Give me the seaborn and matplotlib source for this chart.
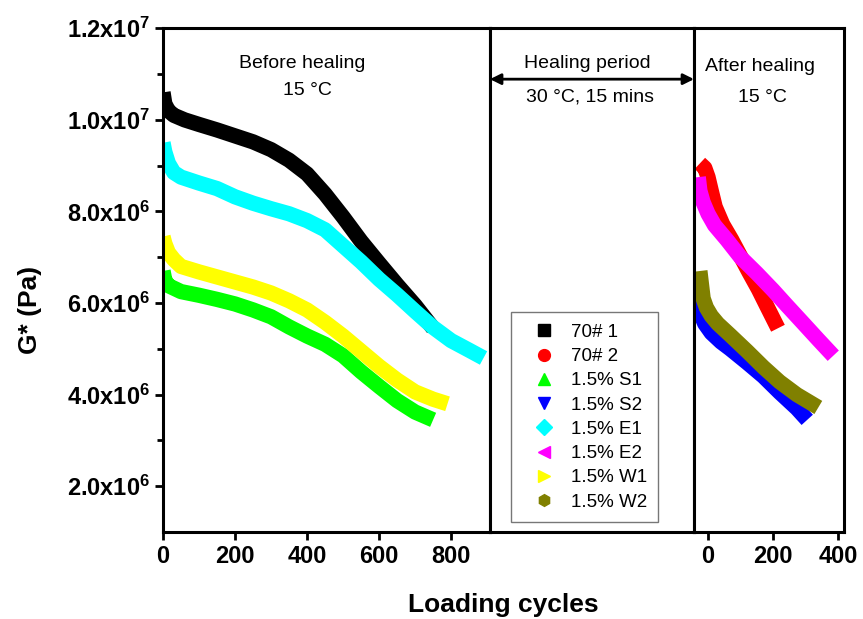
import numpy as np
import pandas as pd
import matplotlib
matplotlib.use("Agg")
import matplotlib.pyplot as plt
from matplotlib.lines import Line2D
import seaborn as sns

# -------------------- DATA (G* in 1e6 Pa) --------------------
# before healing, 15 C
pre_70_1_cyc = [0, 5, 15, 30, 60, 100, 150, 200, 250, 300, 350, 400, 450, 500, 550, 600, 650, 700, 750]
pre_70_1_g = [10.6, 10.35, 10.2, 10.1, 10.0, 9.9, 9.78, 9.65, 9.52, 9.35, 9.12, 8.82, 8.38,
              7.88, 7.35, 6.87, 6.4, 5.95, 5.45]
pre_s1_cyc = [0, 5, 15, 50, 100, 150, 200, 250, 300, 350, 400, 450, 500, 550, 600, 650, 700, 750]
pre_s1_g = [6.7, 6.5, 6.38, 6.25, 6.17, 6.08, 5.98, 5.85, 5.7, 5.48, 5.28, 5.1, 4.85, 4.5,
            4.18, 3.87, 3.62, 3.45]
pre_e1_cyc = [0, 5, 15, 30, 50, 100, 150, 200, 250, 300, 350, 400, 450, 500, 550, 600, 650, 700,
              750, 800, 850, 890]
pre_e1_g = [9.5, 9.3, 9.05, 8.85, 8.75, 8.62, 8.5, 8.32, 8.18, 8.06, 7.95, 7.8, 7.6, 7.25, 6.9,
            6.52, 6.18, 5.82, 5.47, 5.18, 4.97, 4.8]
pre_w1_cyc = [0, 5, 15, 30, 50, 100, 150, 200, 250, 300, 350, 400, 450, 500, 550, 600, 650, 700,
              750, 790]
pre_w1_g = [7.45, 7.3, 7.1, 6.95, 6.8, 6.68, 6.57, 6.46, 6.35, 6.22, 6.05, 5.85, 5.58, 5.28,
            4.95, 4.62, 4.32, 4.06, 3.9, 3.8]

# after healing, 15 C
post_70_2_cyc = [-25, -10, 0, 10, 22, 45, 73, 100, 127, 155, 181, 215]
post_70_2_g = [9.05, 8.95, 8.75, 8.45, 8.1, 7.72, 7.38, 7.02, 6.66, 6.3, 5.93, 5.45]
post_s2_cyc = [-33, -25, -10, 10, 40, 68, 120, 170, 220, 273, 305]
post_s2_g = [6.05, 5.8, 5.55, 5.35, 5.15, 5.0, 4.7, 4.4, 4.05, 3.7, 3.45]
post_e2_cyc = [-30, -25, -15, 0, 20, 58, 100, 150, 200, 242, 290, 339, 385]
post_e2_g = [8.75, 8.45, 8.2, 7.95, 7.7, 7.38, 7.0, 6.65, 6.28, 5.95, 5.58, 5.2, 4.85]
post_w2_cyc = [-25, -20, -15, -5, 10, 30, 68, 120, 170, 220, 273, 339]
post_w2_g = [6.7, 6.4, 6.1, 5.9, 5.72, 5.55, 5.3, 4.95, 4.6, 4.28, 4.0, 3.72]

SAMPLES = ["70# 1", "70# 2", "1.5% S1", "1.5% S2", "1.5% E1", "1.5% E2", "1.5% W1", "1.5% W2"]
COLORS = ["#000000", "#ff0000", "#00ff00", "#0000ff", "#00ffff", "#ff00ff", "#ffff00", "#808000"]
MARKERS = ["s", "o", "^", "v", "D", "<", ">", "h"]

ytick_vals = [2e6, 4e6, 6e6, 8e6, 1.0e7, 1.2e7]
ytick_text = [r"$\mathbf{2.0x10^{6}}$", r"$\mathbf{4.0x10^{6}}$", r"$\mathbf{6.0x10^{6}}$",
              r"$\mathbf{8.0x10^{6}}$", r"$\mathbf{1.0x10^{7}}$", r"$\mathbf{1.2x10^{7}}$"]

# -------------------- STYLE --------------------
sns.set_style("ticks")
plt.rcParams["font.family"] = ["Liberation Sans", "DejaVu Sans"]
plt.rcParams["mathtext.fontset"] = "custom"
plt.rcParams["mathtext.rm"] = "Liberation Sans"
plt.rcParams["mathtext.bf"] = "Liberation Sans:bold"
for key in ("text.color", "axes.labelcolor", "xtick.color", "ytick.color"):
    plt.rcParams[key] = "black"


def frame(cyc, g, name):
    return pd.DataFrame({"cycles": cyc, "G": np.array(g) * 1e6, "sample": name})


pre = pd.concat([frame(pre_70_1_cyc, pre_70_1_g, "70# 1"),
                 frame(pre_s1_cyc, pre_s1_g, "1.5% S1"),
                 frame(pre_e1_cyc, pre_e1_g, "1.5% E1"),
                 frame(pre_w1_cyc, pre_w1_g, "1.5% W1")])
post = pd.concat([frame(post_70_2_cyc, post_70_2_g, "70# 2"),
                  frame(post_s2_cyc, post_s2_g, "1.5% S2"),
                  frame(post_e2_cyc, post_e2_g, "1.5% E2"),
                  frame(post_w2_cyc, post_w2_g, "1.5% W2")])
palette = dict(zip(SAMPLES, COLORS))

fig = plt.figure(figsize=(8.63, 6.19), dpi=100)
bottom, height = 0.1405, 0.8138
ax1 = fig.add_axes([0.1889, bottom, 0.3789, height])
ax2 = fig.add_axes([0.5678, bottom, 0.2364, height])
ax3 = fig.add_axes([0.8042, bottom, 0.1738, height])

line_kw = dict(lw=11, sort=False, estimator=None, legend=False,
               solid_capstyle="butt", solid_joinstyle="round")
sns.lineplot(data=pre, x="cycles", y="G", hue="sample", palette=palette,
             hue_order=["70# 1", "1.5% S1", "1.5% E1", "1.5% W1"], ax=ax1, **line_kw)
sns.lineplot(data=post, x="cycles", y="G", hue="sample", palette=palette,
             hue_order=["70# 2", "1.5% S2", "1.5% E2", "1.5% W2"], ax=ax3, **line_kw)

for ax in (ax1, ax2, ax3):
    ax.set_ylim(1e6, 1.2e7)
    ax.set_xlabel("")
    ax.set_ylabel("")
    for s in ax.spines.values():
        s.set_visible(True)
        s.set_linewidth(2.2)
        s.set_color("black")

# left panel
ax1.set_xlim(0, 908)
ax1.set_xticks([0, 200, 400, 600, 800])
ax1.set_yticks(ytick_vals)
ax1.set_yticklabels(ytick_text)
ax1.set_yticks([3e6, 5e6, 7e6, 9e6, 1.1e7], minor=True)
ax1.tick_params(axis="both", which="major", length=6, width=2, labelsize=17)
ax1.tick_params(axis="y", which="minor", length=4, width=2)
for t in ax1.get_xticklabels():
    t.set_fontweight("bold")

# middle panel
ax2.set_xticks([])
ax2.set_yticks([])

# right panel
ax3.set_xlim(-43, 418)
ax3.set_xticks([0, 200, 400])
ax3.set_yticks([])
ax3.tick_params(axis="x", length=6, width=2, labelsize=17)
for t in ax3.get_xticklabels():
    t.set_fontweight("bold")

# healing period arrow
ax2.annotate("", xy=(0, 0.899), xytext=(1, 0.899), xycoords="axes fraction",
             arrowprops=dict(arrowstyle="<|-|>", color="black", lw=2,
                             mutation_scale=16, shrinkA=0, shrinkB=0))

fig.text(0.350, 0.898, "Before healing", ha="center", va="center", fontsize=14)
fig.text(0.356, 0.853, "15 \u00b0C", ha="center", va="center", fontsize=14)
fig.text(0.681, 0.898, "Healing period", ha="center", va="center", fontsize=14)
fig.text(0.684, 0.843, "30 \u00b0C, 15 mins", ha="center", va="center", fontsize=14)
fig.text(0.881, 0.892, "After healing", ha="center", va="center", fontsize=14)
fig.text(0.883, 0.842, "15 \u00b0C", ha="center", va="center", fontsize=14)

fig.text(0.583, 0.023, "Loading cycles", ha="center", va="center", fontsize=19, fontweight="bold")
fig.text(0.035, 0.499, "G* (Pa)", ha="center", va="center", fontsize=19, fontweight="bold",
         rotation=90)

# legend with markers
handles = [Line2D([], [], ls="none", marker=m, color=c, markersize=8.5)
           for m, c in zip(MARKERS, COLORS)]
leg = ax2.legend(handles, SAMPLES, loc="lower left", bbox_to_anchor=(0.592, 0.157),
                 bbox_transform=fig.transFigure, borderaxespad=0, fontsize=13.5, frameon=True,
                 fancybox=False, labelspacing=0.38, handlelength=2.3, handletextpad=0.3,
                 borderpad=0.6)
leg.get_frame().set_edgecolor("#555555")
leg.get_frame().set_linewidth(1)

fig.savefig("out.png", dpi=100)
